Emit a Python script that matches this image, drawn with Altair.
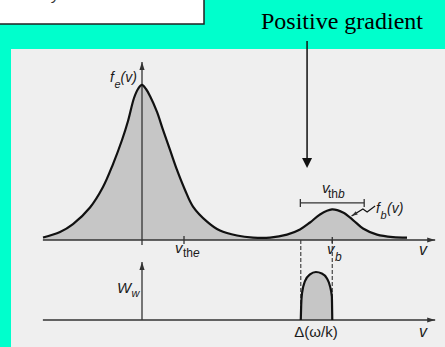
import altair as alt
import pandas as pd

# Total distribution f(v) = f_e(v) + f_b(v), sampled along the drawn curve
v_curve = [-2.357, -1.952, -1.643, -1.238, -0.929, -0.690, -0.476, -0.333, -0.190, -0.095,
           0.000, 0.095, 0.190, 0.357, 0.500, 0.667, 0.833, 1.024, 1.214, 1.548,
           1.857, 2.262, 2.643, 3.048, 3.452, 3.762, 4.000, 4.238, 4.524, 4.786,
           5.024, 5.262, 5.595, 5.976, 6.310]
f_curve = [0.016, 0.052, 0.103, 0.210, 0.342, 0.490, 0.645, 0.768, 0.916, 0.974,
           1.000, 0.974, 0.929, 0.826, 0.710, 0.581, 0.452, 0.323, 0.216, 0.119,
           0.061, 0.029, 0.016, 0.016, 0.035, 0.068, 0.113, 0.165, 0.197, 0.177,
           0.129, 0.074, 0.035, 0.019, 0.016]

# Wave energy W_w over the unstable phase-velocity band
v_dome = [3.78, 3.79, 3.81, 3.88, 4.00, 4.14, 4.28, 4.40, 4.48, 4.52, 4.53]
w_dome = [0.0, 0.31, 0.56, 0.81, 0.95, 1.0, 0.97, 0.87, 0.69, 0.49, 0.0]

# Characteristic velocities
V_THE = 1.0        # electron thermal speed
V_B = 4.53         # beam drift speed
V_THB = 1.52       # beam thermal spread (bar length)
V_GRADIENT = 3.93  # where the "positive gradient" arrow points

# Hand-drawn axis extents
V_AXIS_START, V_AXIS_TIP = -2.36, 6.98
F_AXIS_BELOW, F_AXIS_TIP = -0.032, 1.148
W_AXIS_TIP = 1.21
F_THB_BAR = 0.239
F_LEADER_V = [4.99, 5.26, 5.36, 5.55]
F_LEADER_F = [0.155, 0.200, 0.181, 0.219]

INK = "#111111"
AXIS = "#333333"
FILL = "#c6c6c6"
ARROW = "M0,0L-2,-0.65L-2,0.65Z"
BIG_ARROW = "M0,0L-2,-1L-2,1Z"

x_scale = alt.Scale(domain=[-3.381, 7.214], nice=False, zero=False)
f_scale = alt.Scale(domain=[-0.690, 1.548], nice=False, zero=False)
w_scale = alt.Scale(domain=[-0.5625, 6.667], nice=False, zero=False)


def X(field):
    return alt.X(field, type="quantitative", scale=x_scale, axis=None)


def YF(field):
    return alt.Y(field, type="quantitative", scale=f_scale, axis=None)


def YW(field):
    return alt.Y(field, type="quantitative", scale=w_scale, axis=None)


one = pd.DataFrame({"k": [0]})

# ---- upper panel: f(v) ----
curve = pd.DataFrame({"v": v_curve, "f": f_curve, "base": 0.0})
f_area = alt.Chart(curve).mark_area(interpolate="catmull-rom", color=FILL).encode(
    x=X("v"), y=YF("f"), y2="base:Q")
f_line = alt.Chart(curve).mark_line(interpolate="catmull-rom", color=INK, strokeWidth=2.2).encode(
    x=X("v"), y=YF("f"))

f_segs = pd.DataFrame([
    dict(v=V_AXIS_START, v2=V_AXIS_TIP, f=0.0, f2=0.0),
    dict(v=0.0, v2=0.0, f=F_AXIS_BELOW, f2=F_AXIS_TIP),
    dict(v=V_THE, v2=V_THE, f=-0.026, f2=0.026),
    dict(v=V_B, v2=V_B, f=-0.02, f2=0.02),
    dict(v=V_B - V_THB / 2, v2=V_B + V_THB / 2, f=F_THB_BAR, f2=F_THB_BAR),
    dict(v=V_B - V_THB / 2, v2=V_B - V_THB / 2, f=F_THB_BAR - 0.026, f2=F_THB_BAR + 0.026),
    dict(v=V_B + V_THB / 2, v2=V_B + V_THB / 2, f=F_THB_BAR - 0.026, f2=F_THB_BAR + 0.026),
])
f_rules = alt.Chart(f_segs).mark_rule(color=AXIS, strokeWidth=1.3).encode(
    x=X("v"), x2="v2:Q", y=YF("f"), y2="f2:Q")

dashes = pd.DataFrame({"v": [v_dome[0], V_B], "f": [0.0, 0.0]})
f_dashes = alt.Chart(dashes).mark_rule(color="#444444", strokeWidth=1.2, strokeDash=[4, 2]).encode(
    x=X("v"), y=YF("f"), y2=alt.value(320))

leader = pd.DataFrame({"v": F_LEADER_V, "f": F_LEADER_F, "i": range(len(F_LEADER_V))})
f_leader = alt.Chart(leader).mark_line(color=INK, strokeWidth=1.2).encode(
    x=X("v"), y=YF("f"), order="i:O")

f_heads_df = pd.DataFrame([
    dict(v=V_AXIS_TIP, f=0.0, angle=0, size=64),
    dict(v=0.0, f=F_AXIS_TIP, angle=270, size=64),
    dict(v=F_LEADER_V[0], f=F_LEADER_F[0], angle=149, size=36),
])
f_heads = alt.Chart(f_heads_df).mark_point(shape=ARROW, filled=True, color=AXIS, opacity=1).encode(
    x=X("v"), y=YF("f"),
    angle=alt.Angle("angle:Q", scale=None),
    size=alt.Size("size:Q", scale=None, legend=None))

upper = alt.layer(f_area, f_dashes, f_rules, f_line, f_leader, f_heads)

# ---- lower panel: W_w ----
dome = pd.DataFrame({"v": v_dome, "w": w_dome, "base": 0.0})
w_area = alt.Chart(dome).mark_area(interpolate="monotone", color=FILL).encode(
    x=X("v"), y=YW("w"), y2="base:Q")
w_line = alt.Chart(dome).mark_line(interpolate="monotone", color=INK, strokeWidth=2.2).encode(
    x=X("v"), y=YW("w"))
w_segs = pd.DataFrame([
    dict(v=V_AXIS_START, v2=V_AXIS_TIP, w=0.0, w2=0.0),
    dict(v=0.0, v2=0.0, w=0.0, w2=W_AXIS_TIP),
])
w_rules = alt.Chart(w_segs).mark_rule(color=AXIS, strokeWidth=1.3).encode(
    x=X("v"), x2="v2:Q", y=YW("w"), y2="w2:Q")
w_heads_df = pd.DataFrame([
    dict(v=V_AXIS_TIP, w=0.0, angle=0),
    dict(v=0.0, w=W_AXIS_TIP, angle=270),
])
w_heads = alt.Chart(w_heads_df).mark_point(shape=ARROW, filled=True, color=AXIS, opacity=1, size=64).encode(
    x=X("v"), y=YW("w"), angle=alt.Angle("angle:Q", scale=None))

lower = alt.layer(w_area, w_rules, w_line, w_heads)

# ---- slide decoration ----
panel = alt.Chart(one).mark_rect(color="#efefef").encode(
    x=alt.value(11), x2=alt.value(445), y=alt.value(49), y2=alt.value(347))
box = alt.Chart(one).mark_rect(fill="white", stroke="#222222", strokeWidth=1.5).encode(
    x=alt.value(-3), x2=alt.value(204), y=alt.value(-3), y2=alt.value(24))

grad = pd.DataFrame({"v": [V_GRADIENT]})
grad_shaft = alt.Chart(grad).mark_rule(color=INK, strokeWidth=1.5).encode(
    x=X("v"), y=alt.value(41), y2=alt.value(160))
grad_head = alt.Chart(grad).mark_point(shape=BIG_ARROW, filled=True, color=INK, opacity=1,
                                       size=100, angle=90).encode(
    x=X("v"), y=alt.value(168))


def label(text, x, y, size, style="normal", font="Liberation Sans", align="left", color="#1a1a1a"):
    return alt.Chart(one).mark_text(
        text=text, align=align, baseline="alphabetic", font=font,
        fontSize=size, fontStyle=style, color=color,
    ).encode(x=alt.value(x), y=alt.value(y))


labels = [
    label("y", 52, 0, 15, "italic", color="#333333"),
    label("Positive gradient", 342, 29, 24, font="Liberation Serif", align="center", color="#000000"),
    label("f", 110, 82, 14, "italic"),
    label("e", 114.5, 88, 11, "italic"),
    label("(v)", 120.5, 82, 14, "italic"),
    label("f", 376, 213, 14, "italic"),
    label("b", 380.5, 219, 11, "italic"),
    label("(v)", 387, 213, 14, "italic"),
    label("v", 322, 193, 15, "italic"),
    label("th", 328, 198, 12),
    label("b", 338, 198, 12, "italic"),
    label("v", 175, 253, 15, "italic"),
    label("th", 183, 257, 12),
    label("e", 193, 257, 12, "italic"),
    label("v", 327, 254, 15, "italic"),
    label("b", 335, 261, 12, "italic"),
    label("v", 419, 255, 16, "italic"),
    label("v", 419, 337, 16, "italic"),
    label("W", 117, 293, 15, "italic"),
    label("w", 131.5, 297, 11, "italic"),
    label("Δ(ω/k)", 316, 337, 15, align="center"),
]

chart = alt.layer(
    panel, box, grad_shaft, grad_head, upper, lower, *labels
).resolve_scale(
    y="independent"
).properties(
    width=445, height=347, padding=0,
    autosize=alt.AutoSizeParams(type="none"),
    background="#00FFCC",
).configure_view(strokeOpacity=0)

chart.save("out.html", embed_options={"renderer": "svg", "actions": False})
